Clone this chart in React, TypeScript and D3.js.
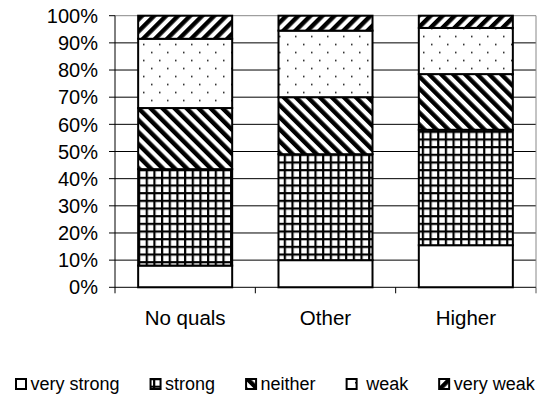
import React, { useRef, useEffect } from "react";
import * as d3 from "d3";

// categories and stacked series (percent of each group)
const categories = ["No quals", "Other", "Higher"];
const seriesNames = ["very strong", "strong", "neither", "weak", "very weak"];
const veryStrong = [8, 10, 15.5];
const strong = [35.5, 39, 42.5];
const neither = [22.5, 21, 20.5];
const weak = [25.5, 24.5, 17];
const veryWeak = [8.5, 5.5, 4.5];
const yTicks = [0, 10, 20, 30, 40, 50, 60, 70, 80, 90, 100];

const patternIds = ["p-vs", "p-st", "p-ne", "p-wk", "p-vw"];

const App: React.FC = () => {
  const svgRef = useRef<SVGSVGElement | null>(null);
  const width = 553;
  const height = 399;

  useEffect(() => {
    if (!svgRef.current) return;
    const svg = d3.select(svgRef.current);
    svg.selectAll("*").remove();

    const font = "'Liberation Sans', Arial, sans-serif";
    const margin = { top: 15.7, right: 17, bottom: 111.7, left: 115 };
    const innerW = width - margin.left - margin.right;
    const innerH = height - margin.top - margin.bottom;

    // patterns
    const defs = svg.append("defs");

    const pGrid = defs
      .append("pattern")
      .attr("id", "p-st")
      .attr("patternUnits", "userSpaceOnUse")
      .attr("width", 7.67)
      .attr("height", 7.67);
    pGrid.append("rect").attr("width", 7.67).attr("height", 7.67).attr("fill", "#fff");
    pGrid.append("rect").attr("x", 0).attr("y", 0).attr("width", 2.2).attr("height", 7.67).attr("fill", "#000");
    pGrid.append("rect").attr("x", 0).attr("y", 0).attr("width", 7.67).attr("height", 2.2).attr("fill", "#000");

    const stripe = (id: string, angle: number) => {
      const p = defs
        .append("pattern")
        .attr("id", id)
        .attr("patternUnits", "userSpaceOnUse")
        .attr("width", 8.5)
        .attr("height", 8.5)
        .attr("patternTransform", `rotate(${angle})`);
      p.append("rect").attr("width", 8.5).attr("height", 8.5).attr("fill", "#fff");
      p.append("rect").attr("width", 4.4).attr("height", 8.5).attr("fill", "#000");
    };
    stripe("p-ne", -45);
    stripe("p-vw", 45);

    const pDots = defs
      .append("pattern")
      .attr("id", "p-wk")
      .attr("patternUnits", "userSpaceOnUse")
      .attr("width", 16)
      .attr("height", 16);
    pDots.append("rect").attr("width", 16).attr("height", 16).attr("fill", "#fff");
    pDots.append("rect").attr("x", 4).attr("y", 4).attr("width", 1.5).attr("height", 1.5).attr("fill", "#111");
    pDots.append("rect").attr("x", 12).attr("y", 12).attr("width", 1.5).attr("height", 1.5).attr("fill", "#111");

    const fillFor = (i: number) => (i === 0 ? "#fff" : `url(#${patternIds[i]})`);

    // scales
    const x = d3
      .scaleBand<string>()
      .domain(categories)
      .range([0, innerW])
      .paddingInner(0.33)
      .paddingOuter(0.165);
    const y = d3.scaleLinear().domain([0, 100]).range([innerH, 0]);

    const g = svg.append("g").attr("transform", `translate(${margin.left},${margin.top})`);

    // gridlines
    g.selectAll(".grid")
      .data(yTicks.filter((t) => t > 0 && t < 100))
      .enter()
      .append("line")
      .attr("x1", 0)
      .attr("x2", innerW)
      .attr("y1", (d) => y(d))
      .attr("y2", (d) => y(d))
      .attr("stroke", "#000")
      .attr("stroke-width", 1);

    // plot border top/right (gray)
    g.append("line").attr("x1", 0).attr("x2", innerW).attr("y1", 0).attr("y2", 0).attr("stroke", "#888");
    g.append("line").attr("x1", innerW).attr("x2", innerW).attr("y1", 0).attr("y2", innerH).attr("stroke", "#888");

    // stacked bars
    const table = categories.map((c, i) => ({
      cat: c,
      "very strong": veryStrong[i],
      strong: strong[i],
      neither: neither[i],
      weak: weak[i],
      "very weak": veryWeak[i],
    }));
    const stacked = d3.stack<any>().keys(seriesNames)(table);

    stacked.forEach((layer, li) => {
      g.append("g")
        .selectAll("rect")
        .data(layer)
        .enter()
        .append("rect")
        .attr("x", (d) => x(d.data.cat) as number)
        .attr("width", x.bandwidth())
        .attr("y", (d) => y(d[1]))
        .attr("height", (d) => y(d[0]) - y(d[1]))
        .attr("fill", fillFor(li))
        .attr("stroke", "#000")
        .attr("stroke-width", 2);
    });

    // y axis
    g.append("line").attr("x1", 0).attr("x2", 0).attr("y1", 0).attr("y2", innerH + 6).attr("stroke", "#000");
    g.selectAll(".ytick")
      .data(yTicks)
      .enter()
      .append("line")
      .attr("x1", -6)
      .attr("x2", 0)
      .attr("y1", (d) => y(d))
      .attr("y2", (d) => y(d))
      .attr("stroke", "#000");
    g.selectAll(".ylab")
      .data(yTicks)
      .enter()
      .append("text")
      .attr("x", -17)
      .attr("y", (d) => y(d))
      .attr("dy", "0.36em")
      .attr("text-anchor", "end")
      .attr("font-family", font)
      .attr("font-size", "20px")
      .attr("fill", "#000")
      .text((d) => `${d}%`);

    // x axis
    g.append("line").attr("x1", 0).attr("x2", innerW).attr("y1", innerH).attr("y2", innerH).attr("stroke", "#000");
    const step = x.step();
    g.selectAll(".xtick")
      .data(categories)
      .enter()
      .append("line")
      .attr("x1", (_, i) => (i + 1) * step)
      .attr("x2", (_, i) => (i + 1) * step)
      .attr("y1", innerH)
      .attr("y2", innerH + 6)
      .attr("stroke", (_, i) => (i === categories.length - 1 ? "#555" : "#000"));
    g.selectAll(".xlab")
      .data(categories)
      .enter()
      .append("text")
      .attr("x", (d) => (x(d) as number) + x.bandwidth() / 2)
      .attr("y", innerH + 38)
      .attr("text-anchor", "middle")
      .attr("font-family", font)
      .attr("font-size", "20.5px")
      .attr("fill", "#000")
      .text((d) => d);

    // legend
    const legendLabels = ["very strong", "strong", "neither", "\u00a0weak", "very weak"];
    const legend = svg.append("g").attr("transform", "translate(15, 378)");
    let cx = 0;
    legendLabels.forEach((lab, i) => {
      legend
        .append("rect")
        .attr("x", cx + 1)
        .attr("y", 1)
        .attr("width", 10)
        .attr("height", 10)
        .attr("fill", fillFor(i))
        .attr("stroke", "#000")
        .attr("stroke-width", 2);
      const t = legend
        .append("text")
        .attr("x", cx + 15.5)
        .attr("y", 12)
        .attr("font-family", font)
        .attr("font-size", "18px")
        .attr("fill", "#000")
        .text(lab);
      const w = (t.node() as SVGTextElement).getComputedTextLength();
      cx += 15.5 + w + 30;
    });
  }, []);

  return (
    <svg
      ref={svgRef}
      width={width}
      height={height}
      style={{ position: "absolute", left: 0, top: 0, background: "#fff" }}
    />
  );
};

export default App;
